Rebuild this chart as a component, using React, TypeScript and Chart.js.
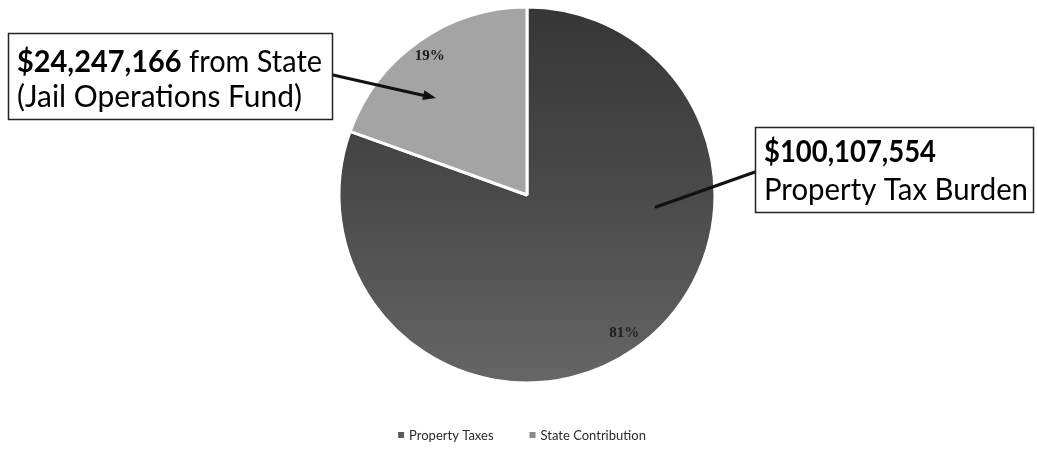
import { useEffect, useRef } from 'react';
import { Chart, registerables } from 'chart.js';

Chart.register(...registerables);

const categories = ['Property Taxes', 'State Contribution'];
const amounts = [100107554, 24247166];
const sliceColors = ['#505050', '#a4a4a4'];
const calloutNotes = ['Property Tax Burden', ' from State', '(Jail Operations Fund)'];

const W = 1037;
const H = 459;
const CX = 527;
const CY = 195;
const R = 189.5;

const fmtMoney = (v: number) => '$' + v.toLocaleString('en-US');

type Part = { text: string; weight: string };

function fitText(ctx: CanvasRenderingContext2D, parts: Part[], x: number, baseline: number, width: number, size: number, family: string) {
  let total = 0;
  parts.forEach((p) => {
    ctx.font = `${p.weight} ${size}px ${family}`;
    total += ctx.measureText(p.text).width;
  });
  const sx = width / total;
  ctx.save();
  ctx.translate(x, baseline);
  ctx.scale(sx, 1);
  ctx.textBaseline = 'alphabetic';
  ctx.textAlign = 'left';
  ctx.fillStyle = '#000';
  let cx = 0;
  parts.forEach((p) => {
    ctx.font = `${p.weight} ${size}px ${family}`;
    ctx.fillText(p.text, cx, 0);
    cx += ctx.measureText(p.text).width;
  });
  ctx.restore();
}

const overlayPlugin = {
  id: 'overlay',
  afterDatasetsDraw(chart: any) {
    const ctx: CanvasRenderingContext2D = chart.ctx;
    const meta = chart.getDatasetMeta(0);
    const total = amounts.reduce((a, b) => a + b, 0);
    ctx.save();
    ctx.font = 'bold 15px "Liberation Serif", serif';
    ctx.textAlign = 'center';
    ctx.textBaseline = 'middle';
    meta.data.forEach((arc: any, i: number) => {
      const mid = (arc.startAngle + arc.endAngle) / 2;
      const r = arc.outerRadius * 0.9;
      const x = arc.x + Math.cos(mid) * r;
      const y = arc.y + Math.sin(mid) * r;
      ctx.fillStyle = i === 0 ? '#1e1e1e' : '#1a1a1a';
      ctx.fillText(Math.round((amounts[i] / total) * 100) + '%', x, y);
    });
    ctx.restore();
  },
  afterDraw(chart: any) {
    const ctx: CanvasRenderingContext2D = chart.ctx;
    const family = 'Lato, "Open Sans", sans-serif';

    ctx.save();
    ctx.strokeStyle = '#111';
    ctx.lineWidth = 3;
    ctx.lineCap = 'round';
    ctx.beginPath();
    ctx.moveTo(333, 75);
    ctx.lineTo(426, 96);
    ctx.stroke();
    const ang = Math.atan2(98 - 75, 436 - 333);
    ctx.fillStyle = '#111';
    ctx.beginPath();
    ctx.moveTo(436, 98);
    ctx.lineTo(436 - 13 * Math.cos(ang) + 5 * Math.sin(ang), 98 - 13 * Math.sin(ang) - 5 * Math.cos(ang));
    ctx.lineTo(436 - 13 * Math.cos(ang) - 5 * Math.sin(ang), 98 - 13 * Math.sin(ang) + 5 * Math.cos(ang));
    ctx.closePath();
    ctx.fill();
    ctx.beginPath();
    ctx.moveTo(755, 172);
    ctx.lineTo(656, 207);
    ctx.stroke();
    ctx.restore();

    ctx.save();
    ctx.fillStyle = '#fff';
    ctx.strokeStyle = '#222';
    ctx.lineWidth = 1.5;
    ctx.fillRect(8.5, 33.5, 324, 86);
    ctx.strokeRect(8.5, 33.5, 324, 86);
    ctx.fillRect(755.5, 127.5, 278, 85);
    ctx.strokeRect(755.5, 127.5, 278, 85);
    ctx.restore();

    fitText(ctx, [
      { text: fmtMoney(amounts[1]), weight: 'bold' },
      { text: calloutNotes[1], weight: 'normal' },
    ], 17, 72, 305, 30, family);
    fitText(ctx, [{ text: calloutNotes[2], weight: 'normal' }], 17, 107, 285, 30, family);
    fitText(ctx, [{ text: fmtMoney(amounts[0]), weight: 'bold' }], 764, 162, 172, 30, family);
    fitText(ctx, [{ text: calloutNotes[0], weight: 'normal' }], 764, 200, 264, 30, family);

    ctx.save();
    ctx.font = '13px Lato, sans-serif';
    ctx.textBaseline = 'middle';
    ctx.textAlign = 'left';
    const box = 6;
    const gap = 5;
    const spacing = 36;
    const widths = categories.map((c) => box + gap + ctx.measureText(c).width);
    const totalW = widths.reduce((a, b) => a + b, 0) + spacing * (categories.length - 1);
    let x = 522 - totalW / 2;
    const y = 435;
    categories.forEach((c, i) => {
      ctx.fillStyle = i === 0 ? '#5a5a5a' : '#8a8a8a';
      ctx.fillRect(x, y - box / 2, box, box);
      ctx.fillStyle = '#2a2a2a';
      ctx.fillText(c, x + box + gap, y + 1);
      x += widths[i] + spacing;
    });
    ctx.restore();
  },
};

export default function App() {
  const ref = useRef<HTMLCanvasElement | null>(null);
  useEffect(() => {
    if (!ref.current) return;
    const chart = new Chart(ref.current, {
      type: 'pie',
      data: {
        labels: categories,
        datasets: [
          {
            data: amounts,
            backgroundColor: (c: any) => {
              const i = c.dataIndex;
              const area = c.chart.chartArea;
              if (i !== 0 || !area) return sliceColors[i];
              const g = c.chart.ctx.createLinearGradient(0, area.top, 0, area.bottom);
              g.addColorStop(0, '#363636');
              g.addColorStop(0.5, '#4a4a4a');
              g.addColorStop(1, '#666666');
              return g;
            },
            borderColor: '#ffffff',
            borderWidth: 3,
          },
        ],
      },
      options: {
        responsive: false,
        animation: false,
        layout: {
          padding: {
            top: CY - R,
            bottom: H - (CY + R),
            left: CX - R,
            right: W - (CX + R),
          },
        },
        plugins: {
          legend: { display: false },
          tooltip: { enabled: false },
        },
      },
      plugins: [overlayPlugin],
    });
    return () => chart.destroy();
  }, []);
  return (
    <div style={{ position: 'absolute', left: 0, top: 0, width: W, height: H, background: '#fff' }}>
      <canvas ref={ref} width={W} height={H} style={{ display: 'block' }} />
    </div>
  );
}
